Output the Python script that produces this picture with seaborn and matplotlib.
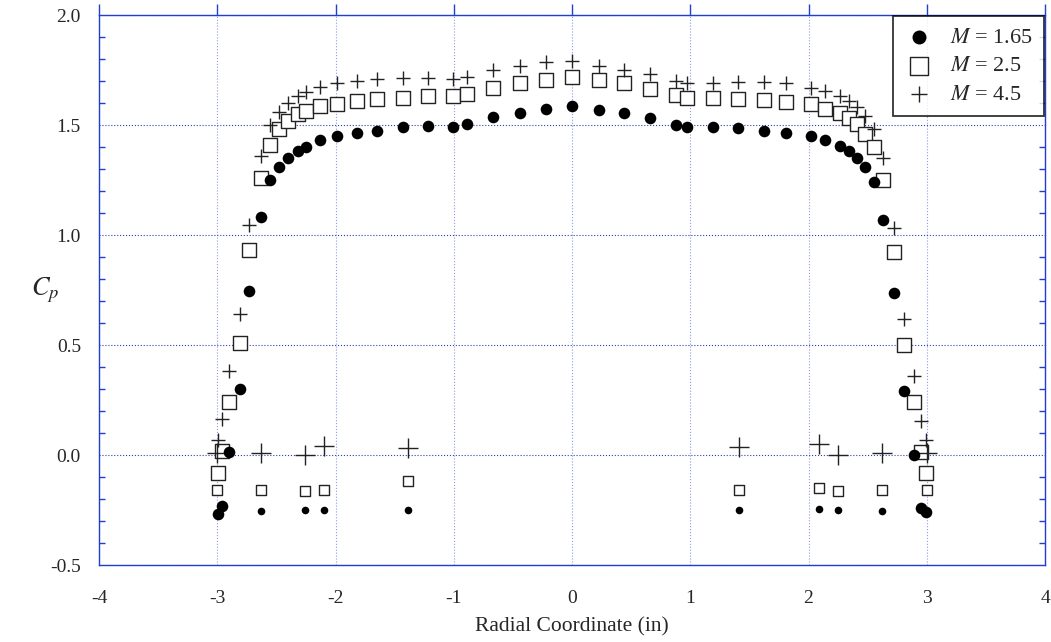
import numpy as np
import matplotlib
matplotlib.use("Agg")
import matplotlib.pyplot as plt
import seaborn as sns
from matplotlib.ticker import MultipleLocator

# Radial pressure taps (in) and pressure coefficient per Mach number
X_TAPS = [-2.99, -2.96, -2.90, -2.81, -2.73, -2.63, -2.55, -2.48, -2.40, -2.32,
          -2.25, -2.13, -1.99, -1.82, -1.65, -1.43, -1.22, -1.01, -0.89, -0.67,
          -0.44, -0.22, 0.00, 0.23, 0.44, 0.66, 0.88, 0.97, 1.19, 1.40,
          1.62, 1.81, 2.02, 2.14, 2.27, 2.34, 2.41, 2.48, 2.55, 2.63,
          2.72, 2.81, 2.89, 2.95, 2.99]
CP_165 = [-0.27, -0.23, 0.015, 0.30, 0.745, 1.08, 1.25, 1.31, 1.35, 1.38,
          1.40, 1.43, 1.45, 1.465, 1.475, 1.49, 1.495, 1.49, 1.505, 1.535,
          1.555, 1.575, 1.585, 1.57, 1.555, 1.53, 1.50, 1.49, 1.49, 1.485,
          1.475, 1.465, 1.45, 1.43, 1.405, 1.38, 1.35, 1.31, 1.24, 1.07,
          0.735, 0.29, 0.0, -0.24, -0.26]
CP_25 = [-0.08, 0.02, 0.24, 0.51, 0.93, 1.26, 1.41, 1.48, 1.52, 1.55,
         1.565, 1.585, 1.595, 1.61, 1.62, 1.625, 1.63, 1.63, 1.64, 1.67,
         1.69, 1.705, 1.72, 1.705, 1.69, 1.665, 1.635, 1.625, 1.625, 1.62,
         1.615, 1.605, 1.595, 1.575, 1.555, 1.53, 1.505, 1.46, 1.40, 1.25,
         0.925, 0.50, 0.24, 0.015, -0.08]
CP_45 = [0.07, 0.165, 0.38, 0.64, 1.045, 1.36, 1.50, 1.56, 1.60, 1.63,
         1.65, 1.675, 1.69, 1.70, 1.71, 1.715, 1.715, 1.71, 1.72, 1.75,
         1.77, 1.785, 1.79, 1.77, 1.75, 1.73, 1.70, 1.69, 1.69, 1.695,
         1.695, 1.69, 1.67, 1.655, 1.63, 1.61, 1.58, 1.54, 1.48, 1.35,
         1.03, 0.62, 0.36, 0.155, 0.07]

# Second set of taps (drawn with different marker sizes)
X_WALL = [-3.00, -2.63, -2.26, -2.10, -1.39, 1.41, 2.09, 2.25, 2.62, 3.00]
WALL_165 = [np.nan, -0.255, -0.25, -0.25, -0.25, -0.25, -0.245, -0.25, -0.255, np.nan]
WALL_25 = [-0.16, -0.16, -0.165, -0.16, -0.12, -0.16, -0.15, -0.165, -0.16, -0.16]
WALL_45 = [0.01, 0.01, 0.0, 0.04, 0.03, 0.035, 0.05, 0.0, 0.01, 0.01]

LABELS = ["$M$ = 1.65", "$M$ = 2.5", "$M$ = 4.5"]

sns.set_theme(style="white")
plt.rcParams["font.family"] = ["Liberation Serif", "DejaVu Serif"]
plt.rcParams["mathtext.fontset"] = "stix"

AXIS_BLUE = "#1f3fd0"
EDGE = "#222222"

fig = plt.figure(figsize=(10.51, 6.42), dpi=100)
ax = fig.add_axes([0.0942, 0.1199, 0.9001, 0.8567])

# squares first, then pluses, then circles on top
sns.scatterplot(x=X_TAPS, y=CP_25, marker="s", s=105, color="white",
                edgecolor=EDGE, linewidth=1.0, ax=ax, zorder=3)
sns.scatterplot(x=X_WALL, y=WALL_25, marker="s", s=60, color="white",
                edgecolor=EDGE, linewidth=1.0, ax=ax, zorder=3)
sns.scatterplot(x=X_TAPS, y=CP_45, marker="+", s=100, color=EDGE,
                linewidth=1.0, ax=ax, zorder=4)
sns.scatterplot(x=X_WALL, y=WALL_45, marker="+", s=210, color=EDGE,
                linewidth=1.0, ax=ax, zorder=4)
sns.scatterplot(x=X_TAPS, y=CP_165, marker="o", s=70, color="black",
                edgecolor="black", linewidth=0, ax=ax, zorder=5)
sns.scatterplot(x=X_WALL, y=WALL_165, marker="o", s=30, color="black",
                edgecolor="black", linewidth=0, ax=ax, zorder=5)

colls = ax.collections
handles = [colls[4], colls[0], colls[2]]

ax.set_xlim(-4, 4)
ax.set_ylim(-0.5, 2.0)
ax.xaxis.set_major_locator(MultipleLocator(1))
ax.yaxis.set_major_locator(MultipleLocator(0.5))
ax.yaxis.set_minor_locator(MultipleLocator(0.1))
ax.set_xticklabels([f"{v:g}" for v in ax.get_xticks()])
ax.yaxis.set_major_formatter(plt.FuncFormatter(lambda v, p: f"{v:.1f}"))

ax.tick_params(axis="x", which="major", direction="out", length=8, width=1,
               color=AXIS_BLUE, labelsize=14, top=True, pad=10)
ax.tick_params(axis="y", which="major", direction="out", length=8, width=1,
               color=AXIS_BLUE, labelsize=14, pad=5)
ax.tick_params(axis="y", which="minor", direction="in", length=4, width=1,
               color=AXIS_BLUE, left=True, right=True)

for s in ax.spines.values():
    s.set_color(AXIS_BLUE)
    s.set_linewidth(1.0)
    s.set_visible(True)

ax.yaxis.grid(True, which="major", color="#3040b0", linestyle=":", linewidth=0.8)
ax.xaxis.grid(True, which="major", color="#8c9af0", linestyle=":", linewidth=0.8)
ax.set_axisbelow(True)

ax.set_xlabel("Radial Coordinate (in)", fontsize=15.5, labelpad=7)
ax.set_ylabel("$C_p$", fontsize=19, rotation=0, va="center", ha="center")
ax.yaxis.set_label_coords(-0.057, 0.5)

leg = ax.legend(handles, LABELS, loc="upper right", fontsize=16,
                frameon=True, fancybox=False, borderaxespad=0.05,
                labelspacing=0.36, handletextpad=0.75, handlelength=1.3,
                borderpad=0.5, markerscale=1.2)
leg.get_frame().set_edgecolor("black")
leg.get_frame().set_linewidth(1.3)
leg.set_zorder(10)

fig.savefig("out.png", dpi=100)
